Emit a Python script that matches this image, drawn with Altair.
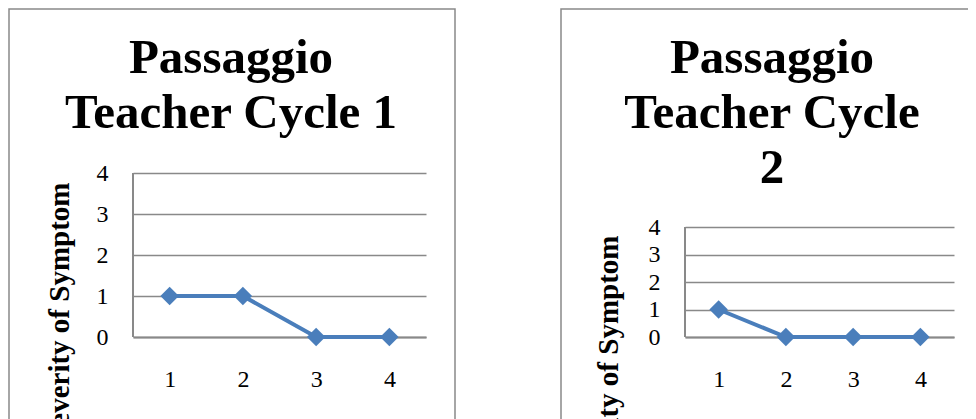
import altair as alt
import pandas as pd

# ---- data ----
cycles = [1, 2, 3, 4]
cycle1_severity = [1, 1, 0, 0]
cycle2_severity = [1, 0, 0, 0]
y_ticks = [0, 1, 2, 3, 4]
title1 = ["Passaggio", "Teacher Cycle 1"]
title2 = ["Passaggio", "Teacher Cycle", "2"]
y_title = "Severity of Symptom"

LINE = "#4a7ebb"
GRAY = "#898989"
SERIF = "Liberation Serif"
H = 164  # shared view height; panel 2 uses only its lower 110 px


def panel(values, title, w, ymax, box, title_pos, ytx, yty):
    df = pd.DataFrame({"Cycle": cycles, "Severity": values})
    x = alt.X(
        "Cycle:O",
        axis=alt.Axis(
            title=None, labelAngle=0, ticks=False, domain=True,
            domainColor=GRAY, domainWidth=2, labelPadding=30,
            labelFontSize=24, labelFont=SERIF, labelColor="black", grid=False,
        ),
    )
    y = alt.Y(
        "Severity:Q",
        scale=alt.Scale(domain=[0, ymax], nice=False),
        axis=alt.Axis(
            values=y_ticks, title=y_title, titleFont=SERIF, titleFontSize=29,
            titleFontWeight="bold", titleColor="black", titleAngle=270,
            titleAlign="right", titleBaseline="middle", titleX=ytx, titleY=yty,
            ticks=False, domain=False,
            grid=True, gridColor=GRAY, gridWidth=1.4, gridOpacity=1,
            labelFont=SERIF, labelFontSize=24, labelColor="black",
            labelPadding=25, format="d",
        ),
    )
    base = alt.Chart(df).encode(x=x, y=y)
    line = base.mark_line(color=LINE, strokeWidth=4)
    pts = base.mark_point(shape="diamond", filled=True, size=340, opacity=1, color=LINE)
    one = alt.Data(values=[{"k": 0}])
    vaxis = alt.Chart(one).mark_rule(color=GRAY, strokeWidth=2).encode(
        x=alt.value(0), y=alt.Y(datum=y_ticks[0]), y2=alt.Y2(datum=y_ticks[-1])
    )
    frame = alt.Chart(one).mark_rect(
        fillOpacity=0, stroke=GRAY, strokeWidth=1.5
    ).encode(
        x=alt.value(box[0]), x2=alt.value(box[1]),
        y=alt.value(box[2]), y2=alt.value(box[3]),
    )
    ttl = alt.Chart(one).mark_text(
        text=title, font=SERIF, fontSize=49, fontWeight="bold", color="black",
        lineHeight=55, align="center", baseline="top",
    ).encode(x=alt.value(title_pos[0]), y=alt.value(title_pos[1]))
    return alt.layer(frame, ttl, line, vaxis, pts).properties(width=w, height=H)


left = panel(cycle1_severity, title1, 293, 4, (-124, 322, -164, 260), (98, -139), -74, 9)
right = panel(cycle2_severity, title2, 269, 4 * 164 / 110, (-124, 300, -164, 260), (87, -139), -77, 62)

chart = alt.hconcat(left, right, spacing=104).properties(
    autosize=alt.AutoSizeParams(type="none"),
    padding={"left": 125, "top": 165, "right": 835, "bottom": 238},
).configure_view(strokeWidth=0)

chart.save("out.html", embed_options={"renderer": "svg", "actions": False})
